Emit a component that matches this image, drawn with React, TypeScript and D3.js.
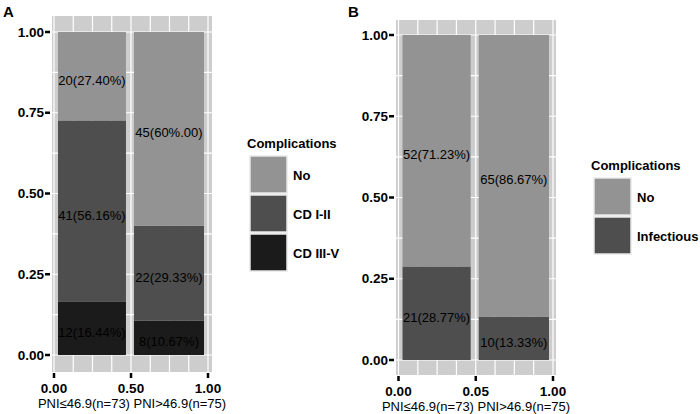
import * as d3 from 'd3';

// ── data ────────────────────────────────────────────────────────────────
const groupNames = ['PNI≤46.9(n=73)', 'PNI>46.9(n=75)'];
const groupCounts = [73, 75];

// panel A (levels listed bottom → top)
const levelsA = ['CD III-V', 'CD I-II', 'No'];
const countsA = [
  [12, 41, 20],
  [8, 22, 45],
];
const textA = [
  ['12(16.44%)', '41(56.16%)', '20(27.40%)'],
  ['8(10.67%)', '22(29.33%)', '45(60%.00)'],
];
const legendA = ['No', 'CD I-II', 'CD III-V'];

// panel B
const levelsB = ['Infectious', 'No'];
const countsB = [
  [21, 52],
  [10, 65],
];
const textB = [
  ['21(28.77%)', '52(71.23%)'],
  ['10(13.33%)', '65(86.67%)'],
];
const legendB = ['No', 'Infectious'];

const yTickValues = [0, 0.25, 0.5, 0.75, 1];
const yTickLabels = ['0.00', '0.25', '0.50', '0.75', '1.00'];
const xTickValues = [0, 0.5, 1];
const xTickLabelsA = ['0.00', '0.50', '1.00'];
const xTickLabelsB = ['0.00', '0.05', '1.00'];

const fills: Record<string, string> = {
  No: '#939393',
  'CD I-II': '#4e4e4e',
  'CD III-V': '#1b1b1b',
  Infectious: '#4e4e4e',
};

const FONT = '"Liberation Sans", Arial, sans-serif';

interface PanelProps {
  letter: string;
  letterX: number;
  // pixel frame of the plotting region
  x0: number; x1: number; y0: number; y1: number;
  // panel background frame
  pl: number; pr: number; pt: number; pb: number;
  levels: string[];
  counts: number[][];
  texts: string[][];
  xTickLabels: string[];
  legend: string[];
  legendX: number;
  legendY: number;
}

function Panel(p: PanelProps) {
  const x = d3.scaleLinear().domain([0, 1]).range([p.x0, p.x1]);
  const y = d3.scaleLinear().domain([0, 1]).range([p.y0, p.y1]);
  const grid = d3.range(0, 1.0001, 0.125);

  // bar extents from cumulative group sizes, with a small inset
  const total = d3.sum(groupCounts);
  const cum = [0, ...d3.cumsum(groupCounts).map(v => v / total)];
  const pad = 0.026;

  return (
    <g fontFamily={FONT}>
      <text x={p.letterX} y={17} fontSize={15} fontWeight={700}>{p.letter}</text>

      {/* panel background + grid */}
      <rect x={p.pl} y={p.pt} width={p.pr - p.pl} height={p.pb - p.pt} fill="#cdcdcd" />
      {grid.map(g => (
        <line key={'v' + g} x1={x(g)} x2={x(g)} y1={p.pt} y2={p.pb} stroke="#fff" strokeWidth={1.2} />
      ))}
      {grid.map(g => (
        <line key={'h' + g} x1={p.pl} x2={p.pr} y1={y(g)} y2={y(g)} stroke="#fff" strokeWidth={1.2} />
      ))}

      {/* mosaic bars */}
      {p.counts.map((row, gi) => {
        const n = d3.sum(row);
        const stackTop = d3.cumsum(row).map(v => v / n);
        const bx0 = x(cum[gi] + pad);
        const bx1 = x(cum[gi + 1] - pad);
        return (
          <g key={gi}>
            {row.map((_, li) => {
              const lo = li === 0 ? 0 : stackTop[li - 1];
              const hi = stackTop[li];
              return (
                <rect key={li} x={bx0} width={bx1 - bx0} y={y(hi)} height={y(lo) - y(hi)}
                  fill={fills[p.levels[li]]} />
              );
            })}
            {row.map((_, li) => {
              const lo = li === 0 ? 0 : stackTop[li - 1];
              const hi = stackTop[li];
              return (
                <text key={'t' + li} x={(bx0 + bx1) / 2} y={y((lo + hi) / 2) + 4}
                  textAnchor="middle" dominantBaseline="central" fontSize={13} fill="#000">
                  {p.texts[gi][li]}
                </text>
              );
            })}
          </g>
        );
      })}

      {/* y axis */}
      {yTickValues.map((v, i) => (
        <g key={'y' + v}>
          <line x1={p.pl - 7} x2={p.pl - 2} y1={y(v)} y2={y(v)} stroke="#000" strokeWidth={2.5} />
          <text x={p.pl - 8} y={y(v)} textAnchor="end" dominantBaseline="central"
            fontSize={13.5} fontWeight={700}>{yTickLabels[i]}</text>
        </g>
      ))}

      {/* x axis */}
      {xTickValues.map((v, i) => (
        <g key={'x' + v}>
          <line x1={x(v)} x2={x(v)} y1={p.pb + 1} y2={p.pb + 6} stroke="#000" strokeWidth={2.5} />
          <text x={x(v)} y={p.pb + 16} textAnchor="middle" dominantBaseline="central"
            fontSize={13.5} fontWeight={700}>{p.xTickLabels[i]}</text>
        </g>
      ))}
      <text x={(p.pl + p.pr) / 2} y={p.pb + 31} textAnchor="middle" dominantBaseline="central" fontSize={13}>
        {groupNames.join(' ')}
      </text>

      {/* legend */}
      <text x={p.legendX - 3} y={p.legendY - 8} fontSize={13} fontWeight={700}>Complications</text>
      {p.legend.map((lv, i) => (
        <g key={lv}>
          <rect x={p.legendX} y={p.legendY + i * 39} width={37} height={37} fill={fills[lv]}
            stroke="#e8e8e8" strokeWidth={1.5} />
          <text x={p.legendX + 43} y={p.legendY + i * 39 + 19} dominantBaseline="central"
            fontSize={13} fontWeight={700}>{lv}</text>
        </g>
      ))}
    </g>
  );
}

export default function App() {
  return (
    <svg width={700} height={414} style={{ position: 'absolute', left: 0, top: 0, background: '#fff' }}>
      <Panel letter="A" letterX={3} x0={54} x1={208} y0={355} y1={32} pl={52} pr={212} pt={16} pb={372}
        levels={levelsA} counts={countsA} texts={textA} xTickLabels={xTickLabelsA}
        legend={legendA} legendX={250} legendY={156} />
      <Panel letter="B" letterX={348} x0={398.5} x1={553} y0={360} y1={35} pl={396} pr={556} pt={20} pb={375}
        levels={levelsB} counts={countsB} texts={textB} xTickLabels={xTickLabelsB}
        legend={legendB} legendX={594} legendY={178} />
    </svg>
  );
}
